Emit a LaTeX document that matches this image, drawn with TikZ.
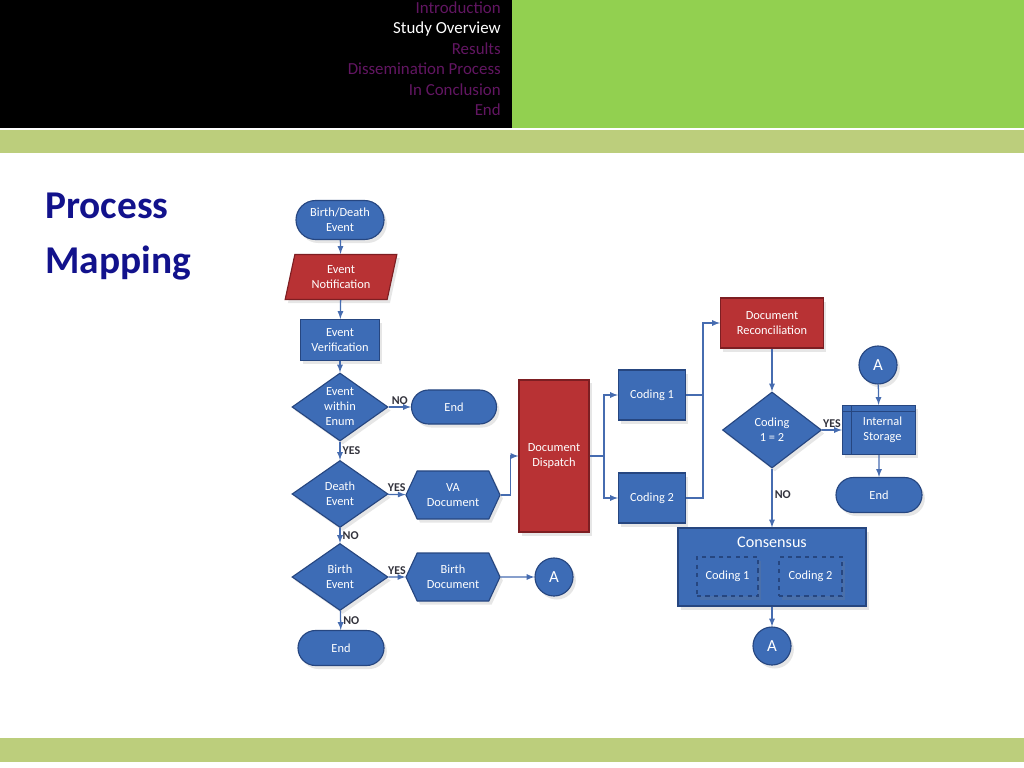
\documentclass[tikz,border=0pt]{standalone}
\usepackage{fontspec}
\setmainfont{Carlito}
\usetikzlibrary{shapes.geometric,shapes.misc,shapes.symbols,shadows}

\definecolor{boxblue}{RGB}{61,108,182}
\definecolor{edgeblue}{RGB}{38,70,128}
\definecolor{boxred}{RGB}{184,50,52}
\definecolor{edgered}{RGB}{125,30,34}
\definecolor{arrowblue}{RGB}{70,108,176}
\definecolor{navpurple}{RGB}{98,22,98}
\definecolor{topgreen}{RGB}{146,208,80}
\definecolor{bargreen}{RGB}{188,206,124}
\definecolor{titlenavy}{RGB}{18,18,140}
\definecolor{labelgray}{RGB}{50,50,60}

\tikzset{
  flowbox/.style={draw=edgeblue, fill=boxblue, text=white, line width=0.8pt,
    align=center, inner sep=0pt, font=\fontsize{8.8}{10.7}\selectfont,
    drop shadow={shadow xshift=2pt, shadow yshift=-2.5pt, opacity=0.2}},
  redbox/.style={flowbox, draw=edgered, fill=boxred},
  term/.style={flowbox, rounded rectangle},
  decision/.style={flowbox, diamond, aspect=1.43},
  prep/.style={flowbox, signal, signal to=west and east, signal pointer angle=130,
    minimum width=2.35cm, minimum height=1.2cm},
  conn/.style={flowbox, circle, minimum size=0.95cm, font=\fontsize{12}{14}\selectfont},
  flow/.style={draw=arrowblue, line width=0.9pt, ->, >=latex},
  lbl/.style={font=\fontsize{8.5}{10}\selectfont\bfseries, text=labelgray, inner sep=1.5pt},
  nav/.style={anchor=mid east, font=\fontsize{12}{14}\selectfont, text=navpurple, inner sep=0pt},
}

\begin{document}
\begin{tikzpicture}[x=0.025cm, y=-0.025cm]
  \useasboundingbox (0,0) rectangle (1024,768);

  % header and bars
  \fill[black] (0,0) rectangle (512,128);
  \fill[topgreen] (512,0) rectangle (1024,128);
  \fill[bargreen] (0,130) rectangle (1024,153);
  \fill[bargreen] (0,738) rectangle (1024,762);

  \node[nav] (nav1) at (501,10) {Introduction};
  \node[nav, text=white] (nav2) at (501,30) {Study Overview};
  \node[nav] (nav3) at (501,51) {Results};
  \node[nav] (nav4) at (501,71) {Dissemination Process};
  \node[nav] (nav5) at (501,92) {In Conclusion};
  \node[nav] (nav6) at (501,112) {End};

  \node[anchor=base west, inner sep=0pt, text=titlenavy,
    font=\fontsize{28}{30}\selectfont\bfseries] (title1) at (45,218) {Process};
  \node[anchor=base west, inner sep=0pt, text=titlenavy,
    font=\fontsize{28}{30}\selectfont\bfseries] (title2) at (45,273) {Mapping};

  % left column
  \node[term, minimum width=2.2cm, minimum height=0.975cm] (start) at (340,220) {Birth/Death\\Event};
  \node[redbox, trapezium, trapezium left angle=75, trapezium right angle=105,
    trapezium stretches=true, minimum width=2.8cm, minimum height=1.125cm] (notif) at (341,277) {Event\\Notification};
  \node[flowbox, minimum width=1.975cm, minimum height=1.025cm] (verif) at (340,340) {Event\\Verification};
  \node[decision, minimum width=2.4cm, minimum height=1.7cm] (enum) at (340,407) {Event\\within\\Enum};
  \node[term, minimum width=2.125cm, minimum height=0.85cm] (end1) at (454,407) {End};
  \node[decision, minimum width=2.4cm, minimum height=1.675cm] (death) at (340,494) {Death\\Event};
  \node[prep] (va) at (453,495) {VA\\Document};
  \node[decision, minimum width=2.4cm, minimum height=1.675cm] (birth) at (340,577) {Birth\\Event};
  \node[prep] (bdoc) at (453,577) {Birth\\Document};
  \node[conn] (a1) at (554,577) {A};
  \node[term, minimum width=2.15cm, minimum height=0.875cm] (end2) at (341,648) {End};

  \draw[flow] (start) -- (notif);
  \draw[flow] (notif) -- (verif);
  \draw[flow] (verif) -- (enum);
  \draw[flow] (enum) to node[lbl, above] {NO} (end1);
  \draw[flow] (enum) to node[lbl, right] {YES} (death);
  \draw[flow] (death) to node[lbl, above] {YES} (va);
  \draw[flow] (death) to node[lbl, right] {NO} (birth);
  \draw[flow] (birth) to node[lbl, above] {YES} (bdoc);
  \draw[flow] (birth) to node[lbl, right] {NO} (end2);
  \draw[flow] (bdoc) -- (a1);

  % dispatch and coding
  \node[redbox, minimum width=1.75cm, minimum height=3.8cm] (disp) at (554,456) {Document\\Dispatch};
  \node[flowbox, minimum width=1.675cm, minimum height=1.25cm] (c1) at (652,395) {Coding 1};
  \node[flowbox, minimum width=1.675cm, minimum height=1.25cm] (c2) at (652,498) {Coding 2};
  \node[redbox, minimum width=2.575cm, minimum height=1.25cm] (recon) at (772,323) {Document\\Reconciliation};

  \draw[flow] (va.east) -- ++(10,0) |- (disp.west);
  \coordinate (split) at (604,456);
  \draw[draw=arrowblue, line width=0.9pt] (disp.east) -- (split);
  \draw[flow] (split) |- (c1.west);
  \draw[flow] (split) |- (c2.west);
  \coordinate (join) at (703,395);
  \draw[draw=arrowblue, line width=0.9pt] (c1.east) -- (join);
  \draw[flow] (c2.east) -- ++(17,0) |- (recon.west);

  % right part
  \node[decision, minimum width=2.475cm, minimum height=1.9cm] (same) at (772,430) {Coding\\1 = 2};
  \node[flowbox, minimum width=1.825cm, minimum height=1.225cm,
    path picture={
      \draw[edgeblue, line width=0.8pt] ([yshift=-4.3pt]path picture bounding box.north west)
        -- ([yshift=-4.3pt]path picture bounding box.north east);
      \draw[edgeblue, line width=0.8pt] ([xshift=6.4pt]path picture bounding box.north west)
        -- ([xshift=6.4pt]path picture bounding box.south west);
    }] (store) at (879,430) {\hspace*{5pt}Internal\\\hspace*{5pt}Storage};
  \node[conn] (a2) at (878,365) {A};
  \node[term, minimum width=2.15cm, minimum height=0.875cm] (end3) at (879,495) {End};
  \node[flowbox, minimum width=4.7cm, minimum height=1.95cm] (cons) at (772,567) {};
  \node[text=white, font=\fontsize{11.5}{13}\selectfont, inner sep=0pt] (constitle) at (772,542) {Consensus};
  \node[flowbox, dashed, drop shadow={opacity=0}, minimum width=1.525cm, minimum height=0.975cm] (k1) at (727.5,576.5) {Coding 1};
  \node[flowbox, dashed, drop shadow={opacity=0}, minimum width=1.575cm, minimum height=0.975cm] (k2) at (810.5,576.5) {Coding 2};
  \node[conn] (a3) at (772,646) {A};

  \draw[flow] (recon) -- (same);
  \draw[flow] (same) to node[lbl, above] {YES} (store);
  \draw[flow] (same) to node[lbl, right, pos=0.45] {NO} (cons);
  \draw[flow] (a2) -- (store);
  \draw[flow] (store) -- (end3);
  \draw[flow] (cons) -- (a3);
\end{tikzpicture}
\end{document}
